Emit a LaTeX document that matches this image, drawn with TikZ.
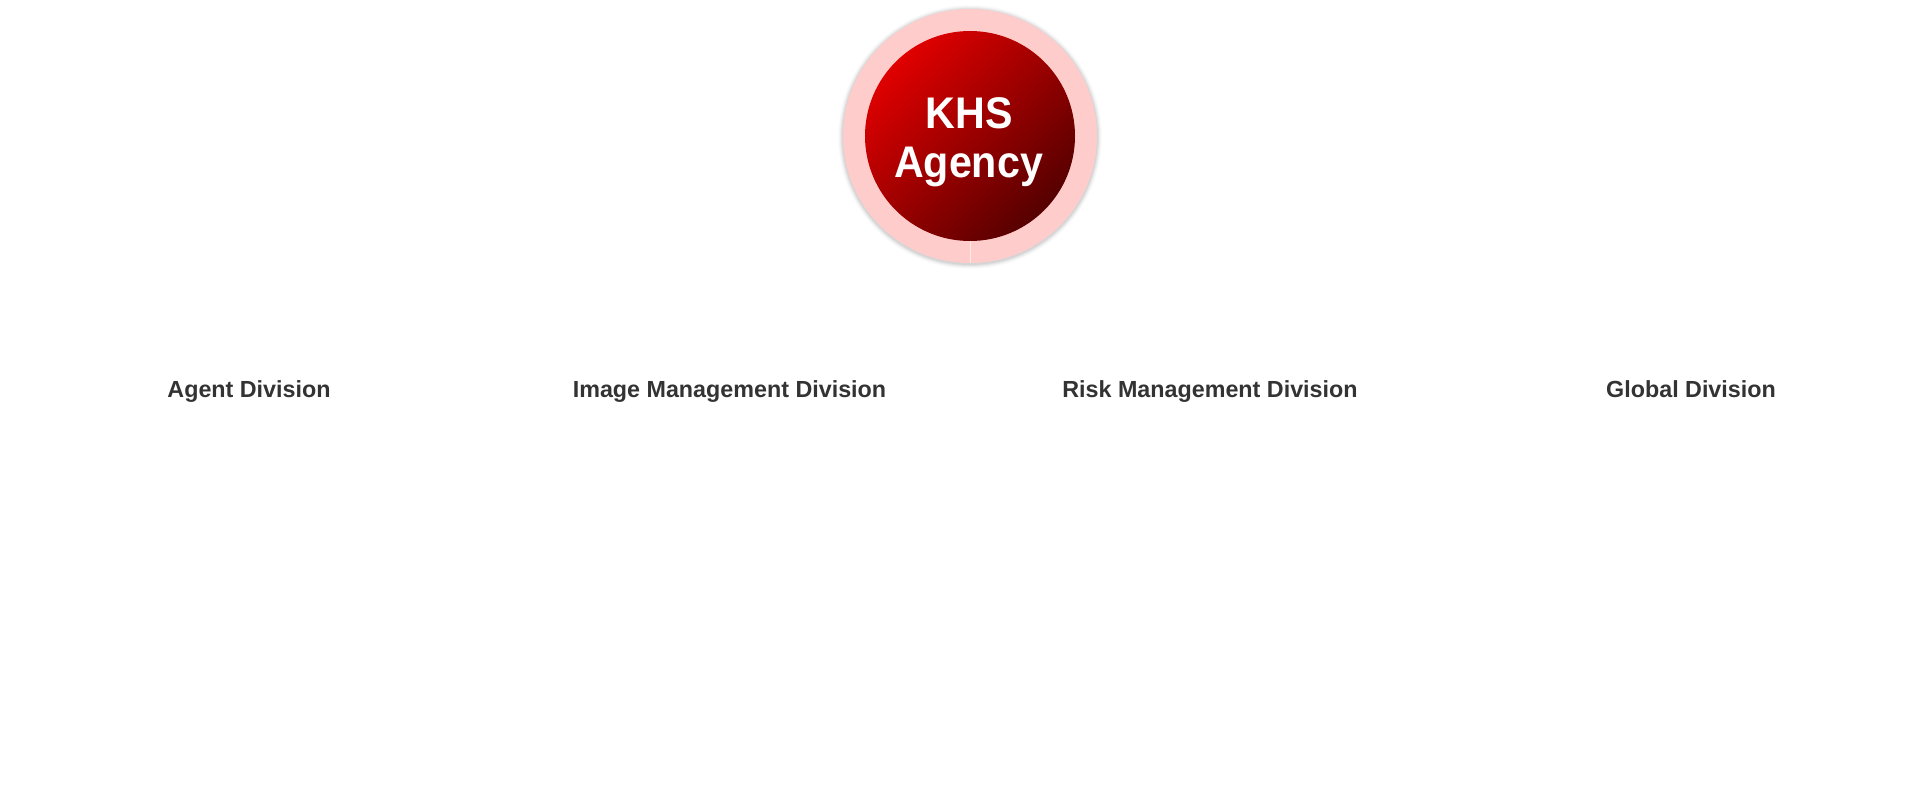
\documentclass[tikz,border=0pt]{standalone}
\usepackage{fontspec}
\setmainfont{Liberation Sans}
\newfontfamily\titlefont[FakeStretch=0.93]{Liberation Sans}
\definecolor{ringpink}{HTML}{FFCCCC}
\definecolor{redlight}{HTML}{E00000}
\definecolor{reddark}{HTML}{560000}
\definecolor{labelgray}{HTML}{333333}
\tikzset{
  lbl/.style={anchor=base, text=labelgray, inner sep=0pt, font=\bfseries\fontsize{23.3}{28}\selectfont},
  ttl/.style={anchor=base, text=white, inner sep=0pt, font=\titlefont\bfseries\fontsize{44.3}{49}\selectfont},
}
\begin{document}
\begin{tikzpicture}[x=1pt,y=-1pt]
\useasboundingbox (0,0) rectangle (1920,809);
\fill[white] (0,0) rectangle (1920,809);
% soft shadow
\foreach \r/\o in {132/0.015,131/0.025,130/0.035,129/0.045,128/0.05}
  \fill[black,opacity=\o] (970,137) circle (\r);
\node[circle, fill=ringpink, minimum size=254pt, inner sep=0pt] (outer) at (970,136) {};
\node[circle, minimum size=210pt, inner sep=0pt] (inner) at (970,136) {};
\shade[top color=redlight, bottom color=reddark, shading angle=45] (inner.center) circle (105);
\draw[white, opacity=0.55, line width=0.8pt] (inner.south) -- (outer.south);
\node[ttl] (khs) at (969,128) {KHS};
\node[ttl] (agency) at (968.5,177) {Agency};
\node[lbl] (agent) at (249,397) {Agent Division};
\node[lbl] (image) at (729.5,397) {Image Management Division};
\node[lbl] (risk) at (1210,397) {Risk Management Division};
\node[lbl] (global) at (1691,397) {Global Division};
\end{tikzpicture}
\end{document}
